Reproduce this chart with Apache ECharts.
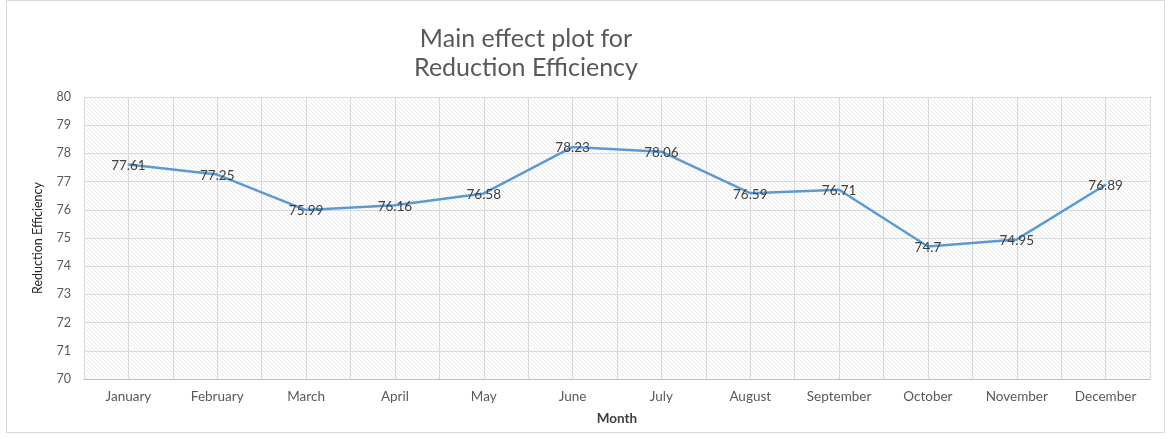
<!DOCTYPE html>
<html>
<head>
<meta charset="utf-8">
<script src="https://cdn.jsdelivr.net/npm/echarts@6/dist/echarts.min.js"></script>
<style>
  html, body { margin: 0; padding: 0; background: #ffffff; }
  #chart { width: 1171px; height: 439px; }
</style>
</head>
<body>
<div id="chart"></div>
<script>
// Monthly main effect on reduction efficiency
const months = ['January', 'February', 'March', 'April', 'May', 'June',
                'July', 'August', 'September', 'October', 'November', 'December'];
const efficiency = [77.61, 77.25, 75.99, 76.16, 76.58, 78.23, 78.06, 76.59, 76.71, 74.7, 74.95, 76.89];
const yTicks = [70, 71, 72, 73, 74, 75, 76, 77, 78, 79, 80];

const FONT = 'Lato, "Open Sans", sans-serif';

// Faint diagonal hatch used as plot-area fill
function hatchPattern() {
  const c = document.createElement('canvas');
  c.width = 4; c.height = 4;
  const g = c.getContext('2d');
  g.fillStyle = '#ffffff';
  g.fillRect(0, 0, 4, 4);
  g.strokeStyle = 'rgba(180,180,180,0.28)';
  g.lineWidth = 1;
  g.beginPath();
  g.moveTo(0, 0); g.lineTo(4, 4);
  g.moveTo(-2, 2); g.lineTo(2, 6);
  g.moveTo(2, -2); g.lineTo(6, 2);
  g.stroke();
  return c;
}

const chart = echarts.init(document.getElementById('chart'), null, { renderer: 'canvas' });

chart.setOption({
  animation: false,
  backgroundColor: '#ffffff',
  textStyle: { fontFamily: FONT },
  title: {
    text: 'Main effect plot for\nReduction Efficiency',
    left: 521,
    textAlign: 'center',
    top: 19,
    textStyle: { fontSize: 25, fontWeight: 'normal', color: '#595959', lineHeight: 29, fontFamily: FONT }
  },
  graphic: [{
    type: 'rect',
    shape: { x: 6.5, y: 0.5, width: 1158, height: 432 },
    style: { fill: 'none', stroke: '#d9d9d9', lineWidth: 1 },
    silent: true
  }],
  grid: {
    left: 84, right: 21, top: 97, bottom: 60,
    show: true,
    borderWidth: 0,
    backgroundColor: { image: hatchPattern(), repeat: 'repeat' }
  },
  xAxis: [{
    type: 'category',
    data: months,
    boundaryGap: true,
    name: 'Month',
    nameLocation: 'middle',
    nameGap: 33,
    nameTextStyle: { fontSize: 13.5, fontWeight: 'bold', color: '#404040', fontFamily: FONT },
    axisLine: { show: true, lineStyle: { color: '#bfbfbf', width: 1 } },
    axisTick: { show: false },
    axisLabel: { fontSize: 13.5, color: '#595959', margin: 11, interval: 0, fontFamily: FONT },
    splitLine: { show: false }
  }, {
    // half-category grid lines
    type: 'value',
    min: 0, max: 24, interval: 1,
    position: 'bottom',
    show: true,
    axisLine: { show: false },
    axisTick: { show: false },
    axisLabel: { show: false },
    splitLine: { show: true, lineStyle: { color: '#dadada', width: 1 } }
  }],
  yAxis: {
    type: 'value',
    min: yTicks[0],
    max: yTicks[yTicks.length - 1],
    interval: 1,
    name: 'Reduction Efficiency',
    nameLocation: 'middle',
    nameGap: 40,
    nameRotate: 90,
    nameTextStyle: { fontSize: 12.5, color: '#262626', fontFamily: FONT },
    axisLine: { show: false },
    axisTick: { show: false },
    axisLabel: { fontSize: 12.5, color: '#595959', margin: 13, fontFamily: FONT },
    splitLine: { show: true, lineStyle: { color: '#dadada', width: 1 } }
  },
  series: [{
    type: 'line',
    data: efficiency,
    xAxisIndex: 0,
    symbol: 'circle',
    symbolSize: 2,
    showSymbol: true,
    itemStyle: { color: '#5b9bd5' },
    lineStyle: { color: '#5b9bd5', width: 2.5 },
    label: {
      show: true,
      position: 'top',
      distance: 0,
      offset: [0, 9],
      fontSize: 13.5,
      color: '#404040',
      fontFamily: FONT
    }
  }]
});
</script>
</body>
</html>
